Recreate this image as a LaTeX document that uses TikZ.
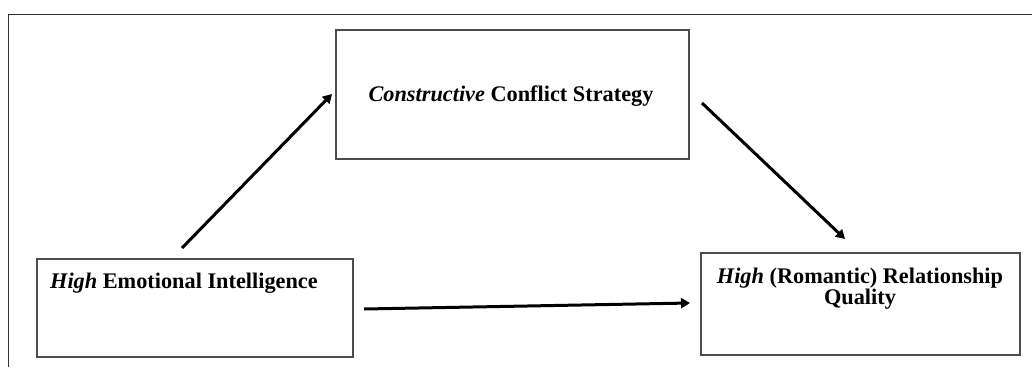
\documentclass[tikz,border=0pt]{standalone}
\usepackage{fontspec}
\setmainfont{Liberation Serif}
\usetikzlibrary{arrows.meta}
\begin{document}
\begin{tikzpicture}[x=1pt,y=-1pt,
  box/.style={draw=black!70, line width=1.5pt, inner sep=0pt, anchor=center},
  lbl/.style={font=\fontsize{22.3}{21}\selectfont\bfseries, inner sep=0pt, align=center},
  arr/.style={line width=3pt, -{Triangle[length=9pt,width=10pt]}},
  frame/.style={draw=black!80, line width=1pt}]
\useasboundingbox (0,0) rectangle (1032,367);
% outer frame (partial)
\draw[frame] (8,367) -- (8,14) -- (1032,14);
% boxes
\node[box, minimum width=353pt, minimum height=129pt] (cs) at (512.5,94.5) {};
\node[box, minimum width=316pt, minimum height=98pt] (ei) at (195,308) {};
\node[box, minimum width=319pt, minimum height=102pt] (rq) at (860.5,304) {};
% labels
\node[lbl, anchor=base] (cst) at (511,101) {\textit{Constructive} Conflict Strategy};
\node[lbl, anchor=base west] (eit) at (50,288) {\textit{High} Emotional Intelligence};
\node[lbl, anchor=base] (rqt) at (860,283) {\textit{High} (Romantic) Relationship};
\node[lbl, anchor=base] (rqt2) at (860,304) {Quality};
% arrow ends
\coordinate (a1s) at (182,248);
\coordinate (a1e) at (332,94);
\coordinate (a2s) at (702,103);
\coordinate (a2e) at (845,239);
\coordinate (a3s) at (364,309);
\coordinate (a3e) at (690,303);
\draw[arr] (a1s) -- (a1e);
\draw[arr] (a2s) -- (a2e);
\draw[arr] (a3s) -- (a3e);
\end{tikzpicture}
\end{document}
